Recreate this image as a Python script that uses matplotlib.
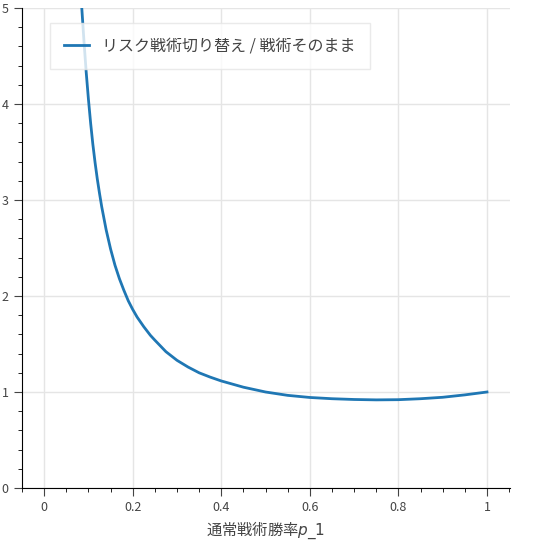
import matplotlib
matplotlib.use("Agg")
import matplotlib.pyplot as plt
from matplotlib.ticker import MultipleLocator, FuncFormatter

plt.rcParams['font.family'] = ['Noto Sans CJK JP', 'DejaVu Sans']
plt.rcParams['mathtext.fontset'] = 'dejavusans'

p1 = [0.085, 0.09, 0.095, 0.1, 0.105, 0.11, 0.115, 0.12, 0.125, 0.13, 0.14, 0.15, 0.16, 0.17,
      0.18, 0.19, 0.2, 0.21, 0.225, 0.24, 0.25, 0.275, 0.3, 0.325, 0.35, 0.375, 0.4,
      0.45, 0.5, 0.55, 0.6, 0.65, 0.7, 0.75, 0.8, 0.85, 0.9, 0.95, 1.0]
ratio = [5.0, 4.65, 4.33, 4.05, 3.8, 3.58, 3.39, 3.22, 3.07, 2.93, 2.69, 2.49, 2.32, 2.18,
         2.06, 1.95, 1.86, 1.78, 1.68, 1.59, 1.54, 1.42, 1.33, 1.26, 1.2, 1.155, 1.115,
         1.05, 1.0, 0.965, 0.943, 0.93, 0.922, 0.918, 0.92, 0.93, 0.945, 0.97, 1.0]
label = 'リスク戦術切り替え / 戦術そのまま'

fig = plt.figure(figsize=(5.5, 5.5), dpi=100)
ax = fig.add_axes([22/550, 62/550, 488/550, 480/550])
ax.plot(p1, ratio, color='#1f77b4', lw=2, label=label)
ax.set_xlim(-0.05, 1.052)
ax.set_ylim(0, 5)
ax.xaxis.set_major_locator(MultipleLocator(0.2))
ax.xaxis.set_minor_locator(MultipleLocator(0.05))
ax.yaxis.set_major_locator(MultipleLocator(1))
ax.yaxis.set_minor_locator(MultipleLocator(0.2))
ax.grid(True, which='major', color='#e5e5e5', lw=1)
ax.set_axisbelow(True)
for s in ['top', 'right']:
    ax.spines[s].set_visible(False)
ax.tick_params(which='major', direction='out', length=6, labelsize=9, colors='#444444')
ax.tick_params(which='minor', direction='out', length=3)
ax.xaxis.set_major_formatter(FuncFormatter(lambda v, p: f'{v:g}'))
ax.yaxis.set_major_formatter(FuncFormatter(lambda v, p: f'{v:g}'))
ax.set_xlabel('通常戦術勝率' + r'$\mathit{p\_1}$', fontsize=11, color='#444444')
leg = ax.legend(loc='upper left', bbox_to_anchor=(0.04, 0.985), fontsize=11.5, frameon=True,
                fancybox=False, edgecolor='#e5e5e5', handlelength=1.6, borderpad=0.9)
for t in leg.get_texts():
    t.set_color('#444444')
fig.savefig('out.png', dpi=100)
